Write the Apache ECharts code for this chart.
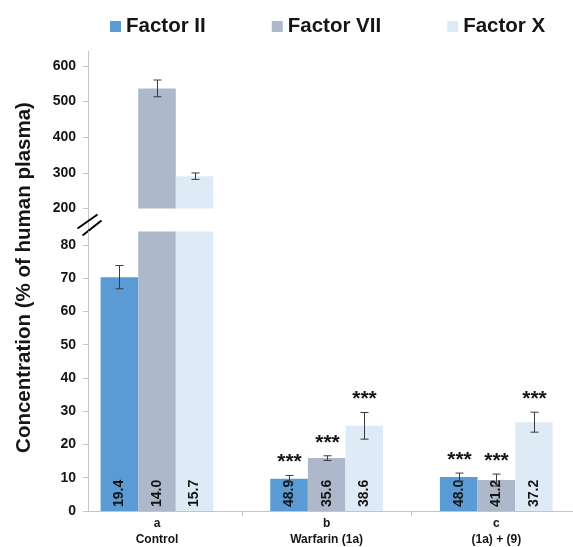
<!DOCTYPE html>
<html>
<head>
<meta charset="utf-8">
<script src="https://cdn.jsdelivr.net/npm/echarts@6/dist/echarts.min.js"></script>
<style>
  html, body { margin: 0; padding: 0; background: #ffffff; }
  #chart { width: 573px; height: 547px; }
</style>
</head>
<body>
<div id="chart"></div>
<script>
// ---- data ----
const groupLetters = ['a', 'b', 'c'];
const groupNames = ['Control', 'Warfarin (1a)', '(1a) + (9)'];
const factorNames = ['Factor II', 'Factor VII', 'Factor X'];

// mean concentration, % of human plasma
const factorII = [70.3, 9.7, 10.2];
const factorVII = [536.6, 15.9, 9.3];
const factorX = [290.6, 25.6, 26.7];

// error (half-length of whisker)
const errII = [3.5, 1.0, 1.2];
const errVII = [23.5, 0.7, 1.8];
const errX = [9.0, 4.0, 3.0];

// numbers printed inside the bars
const noteII = ['19.4', '48.9', '48.0'];
const noteVII = ['14.0', '35.6', '41.2'];
const noteX = ['15.7', '38.6', '37.2'];

// significance marks
const sigII = ['', '***', '***'];
const sigVII = ['', '***', '***'];
const sigX = ['', '***', '***'];

// axis ticks of the two axis segments
const lowerTicks = [0, 10, 20, 30, 40, 50, 60, 70, 80];
const upperTicks = [200, 300, 400, 500, 600];

// ---- layout / style ----
const FONT = "'Liberation Sans', Arial, Helvetica, sans-serif";
const TEXT = '#151515';
const AXIS = '#c4c4c4';
const PLOT_LEFT = 88;
const BAR_W = 37.6;
const X_MIN = -0.4067, X_MAX = 2.452;
const UPPER = { top: 51.5, height: 157, min: 200, max: 640, ticks: upperTicks };
const LOWER = { top: 231.6, height: 281.4, min: 0, max: 84, ticks: lowerTicks };
const segments = [UPPER, LOWER];

const factors = [
  { name: factorNames[0], values: factorII, err: errII, note: noteII, sig: sigII, color: '#5B9BD5' },
  { name: factorNames[1], values: factorVII, err: errVII, note: noteVII, sig: sigVII, color: '#ADB9CA' },
  { name: factorNames[2], values: factorX, err: errX, note: noteX, sig: sigX, color: '#DEEBF7' }
];

const grids = segments.map(s => ({ left: PLOT_LEFT, right: 0, top: s.top, height: s.height }));

const xAxes = segments.map((s, gi) => ({
  type: 'value', gridIndex: gi, min: X_MIN, max: X_MAX,
  show: gi === 1,
  splitLine: { show: false },
  axisLine: { show: true, onZero: false, lineStyle: { color: AXIS, width: 1 } },
  axisTick: {
    show: true, length: 5, lineStyle: { color: AXIS },
    customValues: groupLetters.slice(1).map((_, i) => i + 0.5)
  },
  axisLabel: {
    customValues: groupLetters.map((_, i) => i),
    formatter: v => groupLetters[Math.round(v)] + '\n' + groupNames[Math.round(v)],
    fontFamily: FONT, fontSize: 12, fontWeight: 'bold', color: TEXT,
    lineHeight: 15.5, margin: 5
  }
}));

const yAxes = segments.map((s, gi) => ({
  type: 'value', gridIndex: gi, min: s.min, max: s.max, position: 'left',
  splitLine: { show: false },
  axisLine: { show: true, onZero: false, lineStyle: { color: AXIS, width: 1 } },
  axisTick: { show: true, length: 5, lineStyle: { color: AXIS }, customValues: s.ticks },
  axisLabel: {
    customValues: s.ticks, margin: 12,
    fontFamily: FONT, fontSize: 14, fontWeight: 'bold', color: TEXT
  }
}));

const series = [];
segments.forEach((s, gi) => {
  factors.forEach((f, k) => {
    series.push({
      type: 'bar', name: f.name, xAxisIndex: gi, yAxisIndex: gi,
      barWidth: BAR_W, barGap: '0%', clip: true,
      itemStyle: { color: f.color },
      data: f.values.map((v, i) => [i, v]),
      label: gi === 1 ? {
        show: true, position: 'insideBottom', rotate: 90, distance: 4,
        align: 'left', verticalAlign: 'middle',
        formatter: p => f.note[p.dataIndex],
        fontFamily: FONT, fontSize: 14, fontWeight: 'bold', color: TEXT
      } : { show: false }
    });
  });
  factors.forEach((f, k) => {
    series.push({
      type: 'custom', name: f.name + ' error', xAxisIndex: gi, yAxisIndex: gi, z: 5,
      data: f.values.map((v, i) => [i, v, f.err[i]]),
      renderItem: (params, api) => {
        const i = api.value(0), v = api.value(1), e = api.value(2);
        if (v < s.min || v > s.max) return;
        const top = api.coord([i, v + e]);
        const bot = api.coord([i, v - e]);
        const x = Math.round(top[0] + (k - 1) * BAR_W) + 0.5;
        const stroke = { stroke: '#3a3a3a', lineWidth: 1 };
        const children = [
          { type: 'line', shape: { x1: x, y1: top[1], x2: x, y2: bot[1] }, style: stroke },
          { type: 'line', shape: { x1: x - 4, y1: top[1], x2: x + 4, y2: top[1] }, style: stroke },
          { type: 'line', shape: { x1: x - 4, y1: bot[1], x2: x + 4, y2: bot[1] }, style: stroke }
        ];
        const sig = f.sig[params.dataIndex];
        if (sig) {
          children.push({
            type: 'text',
            style: {
              text: sig, x: x, y: top[1] - 13, align: 'center', verticalAlign: 'middle',
              fontFamily: FONT, fontSize: 21, fontWeight: 'bold', fill: TEXT
            }
          });
        }
        return { type: 'group', children: children };
      }
    });
  });
});

const upperBottom = UPPER.top + UPPER.height;
const axisX = PLOT_LEFT + 0.5;

const option = {
  animation: false,
  backgroundColor: '#ffffff',
  grid: grids,
  xAxis: xAxes,
  yAxis: yAxes,
  legend: {
    data: factorNames, left: 110, top: 16, padding: 0,
    icon: 'rect', itemWidth: 11, itemHeight: 11, itemGap: 66,
    selectedMode: false,
    textStyle: { fontFamily: FONT, fontSize: 20.5, fontWeight: 'bold', color: TEXT }
  },
  series: series,
  graphic: [
    {
      type: 'text', x: 24, y: 277.5, rotation: Math.PI / 2,
      style: {
        text: 'Concentration (% of human plasma)', align: 'center', verticalAlign: 'middle',
        fontFamily: FONT, fontSize: 20.5, fontWeight: 'bold', fill: TEXT
      }
    },
    // axis line bridging the two segments
    {
      type: 'line', shape: { x1: axisX, y1: upperBottom, x2: axisX, y2: LOWER.top },
      style: { stroke: AXIS, lineWidth: 1 }
    },
    // break marks
    {
      type: 'line', shape: { x1: axisX - 11, y1: upperBottom + 20, x2: axisX + 9, y2: upperBottom + 6 },
      style: { stroke: '#000', lineWidth: 2 }
    },
    {
      type: 'line', shape: { x1: axisX - 6, y1: upperBottom + 27, x2: axisX + 13, y2: upperBottom + 12 },
      style: { stroke: '#000', lineWidth: 2 }
    }
  ]
};

const chart = echarts.init(document.getElementById('chart'), null, { renderer: 'canvas' });
chart.setOption(option);
</script>
</body>
</html>
